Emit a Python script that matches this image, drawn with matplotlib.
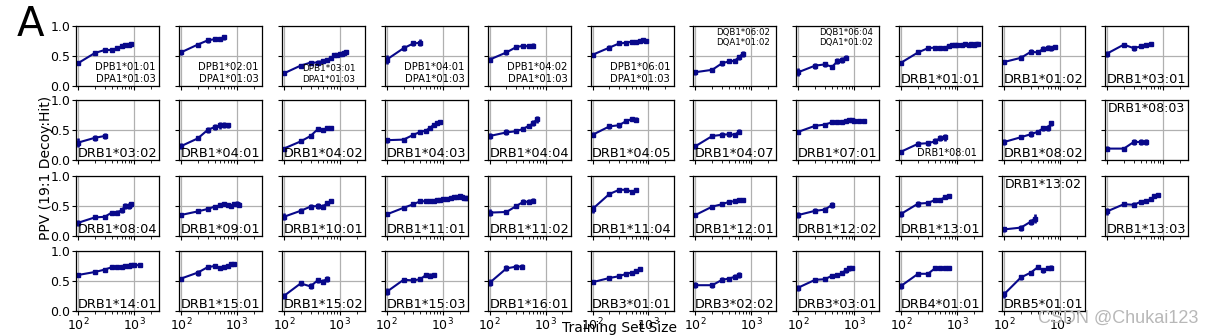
import matplotlib
matplotlib.use("Agg")
import matplotlib.pyplot as plt
import numpy as np

# ---------------- data ----------------
panel_names = [
    "DPB1*01:01\nDPA1*01:03", "DPB1*02:01\nDPA1*01:03", "DPB1*03:01\nDPA1*01:03",
    "DPB1*04:01\nDPA1*01:03", "DPB1*04:02\nDPA1*01:03", "DPB1*06:01\nDPA1*01:03",
    "DQB1*06:02\nDQA1*01:02", "DQB1*06:04\nDQA1*01:02", "DRB1*01:01", "DRB1*01:02",
    "DRB1*03:01",
    "DRB1*03:02", "DRB1*04:01", "DRB1*04:02", "DRB1*04:03", "DRB1*04:04", "DRB1*04:05",
    "DRB1*04:07", "DRB1*07:01", "DRB1*08:01", "DRB1*08:02", "DRB1*08:03",
    "DRB1*08:04", "DRB1*09:01", "DRB1*10:01", "DRB1*11:01", "DRB1*11:02", "DRB1*11:04",
    "DRB1*12:01", "DRB1*12:02", "DRB1*13:01", "DRB1*13:02", "DRB1*13:03",
    "DRB1*14:01", "DRB1*15:01", "DRB1*15:02", "DRB1*15:03", "DRB1*16:01", "DRB3*01:01",
    "DRB3*02:02", "DRB3*03:01", "DRB4*01:01", "DRB5*01:01",
]

train_sizes = [
    [100, 200, 300, 400, 500, 600, 700, 800, 900],
    [100, 200, 300, 400, 500, 600],
    [100, 200, 300, 400, 500, 600, 700, 800, 900, 1000, 1100, 1200, 1300],
    [100, 200, 300, 400],
    [100, 200, 300, 400, 500, 600],
    [100, 200, 300, 400, 500, 600, 700, 800, 900],
    [100, 200, 300, 400, 500, 600, 700],
    [100, 200, 300, 400, 500, 600, 700],
    [100, 200, 300, 400, 500, 600, 700, 800, 900, 1000, 1200, 1400, 1600, 1800, 2000, 2200, 2400],
    [100, 200, 300, 400, 500, 600, 700, 800],
    [100, 200, 300, 400, 500, 600],
    [100, 200, 300],
    [100, 200, 300, 400, 500, 600, 700],
    [100, 200, 300, 400, 500, 600, 700],
    [100, 200, 300, 400, 500, 600, 700, 800, 900],
    [100, 200, 300, 400, 500, 600, 700],
    [100, 200, 300, 400, 500, 600],
    [100, 200, 300, 400, 500, 600],
    [100, 200, 300, 400, 500, 600, 700, 800, 900, 1000, 1200, 1500],
    [100, 200, 300, 400, 500, 600],
    [100, 200, 300, 400, 500, 600, 700],
    [100, 200, 300, 400, 500],
    [100, 200, 300, 400, 500, 600, 700, 800, 900],
    [100, 200, 300, 400, 500, 600, 700, 800, 900, 1000, 1100],
    [100, 200, 300, 400, 500, 600, 700],
    [100, 200, 300, 400, 500, 600, 700, 800, 900, 1000, 1200, 1400, 1600, 1800, 2000, 2200, 2400, 2600, 2800],
    [100, 200, 300, 400, 500, 600],
    [100, 200, 300, 400, 500, 600],
    [100, 200, 300, 400, 500, 600, 700],
    [100, 200, 300, 400],
    [100, 200, 300, 400, 500, 600, 700],
    [100, 200, 300, 350],
    [100, 200, 300, 400, 500, 600, 700, 800],
    [100, 200, 300, 400, 500, 600, 700, 800, 900, 1000, 1300],
    [100, 200, 300, 400, 500, 600, 700, 800, 900],
    [100, 200, 300, 400, 500, 600],
    [100, 200, 300, 400, 500, 600, 700],
    [100, 200, 300, 380],
    [100, 200, 300, 400, 500, 600, 700],
    [100, 200, 300, 400, 500, 600],
    [100, 200, 300, 400, 500, 600, 700, 800, 900],
    [100, 200, 300, 400, 500, 600, 700],
    [100, 200, 300, 400, 500, 600, 700],
]

ppv = [
    [0.38, 0.55, 0.60, 0.60, 0.63, 0.66, 0.68, 0.69, 0.70],
    [0.56, 0.69, 0.76, 0.78, 0.79, 0.81],
    [0.21, 0.34, 0.39, 0.39, 0.42, 0.44, 0.47, 0.51, 0.52, 0.53, 0.54, 0.55, 0.56],
    [0.44, 0.63, 0.71, 0.72],
    [0.44, 0.56, 0.65, 0.67, 0.66, 0.67],
    [0.52, 0.64, 0.71, 0.72, 0.74, 0.74, 0.75, 0.77, 0.75],
    [0.23, 0.27, 0.38, 0.41, 0.42, 0.48, 0.54],
    [0.23, 0.34, 0.36, 0.32, 0.41, 0.44, 0.47],
    [0.39, 0.56, 0.63, 0.64, 0.64, 0.63, 0.67, 0.69, 0.69, 0.69, 0.69, 0.70, 0.69, 0.70, 0.69, 0.70, 0.70],
    [0.40, 0.47, 0.57, 0.56, 0.62, 0.64, 0.63, 0.65],
    [0.54, 0.69, 0.63, 0.66, 0.68, 0.70],
    [0.29, 0.37, 0.40],
    [0.23, 0.36, 0.50, 0.55, 0.58, 0.59, 0.58],
    [0.19, 0.31, 0.40, 0.51, 0.50, 0.53, 0.54],
    [0.33, 0.34, 0.42, 0.47, 0.49, 0.54, 0.59, 0.61, 0.63],
    [0.40, 0.46, 0.48, 0.52, 0.57, 0.61, 0.68],
    [0.42, 0.56, 0.58, 0.65, 0.68, 0.67],
    [0.23, 0.40, 0.42, 0.43, 0.42, 0.47],
    [0.47, 0.57, 0.59, 0.63, 0.63, 0.64, 0.65, 0.66, 0.66, 0.65, 0.65, 0.65],
    [0.14, 0.27, 0.28, 0.31, 0.37, 0.38],
    [0.30, 0.38, 0.43, 0.47, 0.53, 0.54, 0.61],
    [0.19, 0.19, 0.30, 0.30, 0.30],
    [0.22, 0.31, 0.32, 0.39, 0.39, 0.43, 0.50, 0.50, 0.53],
    [0.35, 0.41, 0.45, 0.49, 0.51, 0.53, 0.52, 0.50, 0.53, 0.54, 0.52],
    [0.32, 0.42, 0.49, 0.50, 0.49, 0.55, 0.58],
    [0.36, 0.47, 0.53, 0.58, 0.58, 0.59, 0.59, 0.60, 0.60, 0.61, 0.62, 0.64, 0.65, 0.65, 0.66, 0.65, 0.64, 0.64, 0.64],
    [0.39, 0.40, 0.50, 0.57, 0.57, 0.59],
    [0.45, 0.70, 0.77, 0.77, 0.74, 0.76],
    [0.35, 0.49, 0.53, 0.57, 0.58, 0.60, 0.60],
    [0.35, 0.42, 0.44, 0.52],
    [0.37, 0.54, 0.55, 0.60, 0.60, 0.65, 0.67],
    [0.11, 0.14, 0.24, 0.29],
    [0.41, 0.53, 0.52, 0.57, 0.59, 0.61, 0.66, 0.69],
    [0.60, 0.65, 0.69, 0.73, 0.74, 0.74, 0.75, 0.75, 0.76, 0.77, 0.76],
    [0.54, 0.64, 0.73, 0.75, 0.72, 0.74, 0.75, 0.78, 0.79],
    [0.25, 0.46, 0.41, 0.51, 0.49, 0.54],
    [0.32, 0.52, 0.51, 0.53, 0.60, 0.59, 0.60],
    [0.47, 0.71, 0.74, 0.74],
    [0.48, 0.55, 0.58, 0.62, 0.64, 0.66, 0.70],
    [0.43, 0.43, 0.52, 0.54, 0.57, 0.60],
    [0.39, 0.52, 0.53, 0.59, 0.60, 0.63, 0.68, 0.71, 0.71],
    [0.42, 0.62, 0.62, 0.71, 0.72, 0.71, 0.71],
    [0.28, 0.56, 0.64, 0.73, 0.68, 0.71, 0.72],
]

ppv_err = [
    [0.02, 0.03, 0.02, 0.02, 0.02, 0.03, 0.03, 0.03, 0.03],
    [0.04, 0.02, 0.04, 0.03, 0.03, 0.04],
    [0.02, 0.02, 0.03, 0.04, 0.03, 0.03, 0.02, 0.02, 0.02, 0.02, 0.02, 0.02, 0.02],
    [0.07, 0.05, 0.04, 0.06],
    [0.04, 0.04, 0.02, 0.02, 0.03, 0.04],
    [0.02, 0.04, 0.03, 0.02, 0.02, 0.02, 0.02, 0.03, 0.04],
    [0.04, 0.03, 0.04, 0.03, 0.03, 0.04, 0.05],
    [0.07, 0.05, 0.04, 0.03, 0.05, 0.05, 0.04],
    [0.02, 0.03, 0.02, 0.03, 0.02, 0.02, 0.02, 0.02, 0.02, 0.02, 0.02, 0.02, 0.02, 0.03, 0.02, 0.02, 0.02],
    [0.03, 0.04, 0.04, 0.03, 0.04, 0.04, 0.04, 0.04],
    [0.05, 0.02, 0.04, 0.03, 0.03, 0.04],
    [0.08, 0.05, 0.05],
    [0.05, 0.02, 0.05, 0.05, 0.06, 0.05, 0.04],
    [0.02, 0.03, 0.03, 0.03, 0.03, 0.03, 0.02],
    [0.04, 0.02, 0.02, 0.03, 0.02, 0.02, 0.03, 0.03, 0.03],
    [0.05, 0.05, 0.03, 0.02, 0.03, 0.05, 0.06],
    [0.04, 0.04, 0.04, 0.03, 0.03, 0.04],
    [0.04, 0.04, 0.04, 0.04, 0.03, 0.04],
    [0.03, 0.02, 0.02, 0.02, 0.02, 0.02, 0.02, 0.02, 0.03, 0.02, 0.02, 0.02],
    [0.03, 0.04, 0.04, 0.05, 0.05, 0.06],
    [0.05, 0.03, 0.05, 0.03, 0.04, 0.05, 0.04],
    [0.04, 0.02, 0.05, 0.05, 0.05],
    [0.05, 0.03, 0.03, 0.03, 0.04, 0.04, 0.05, 0.05, 0.04],
    [0.02, 0.03, 0.02, 0.03, 0.02, 0.02, 0.03, 0.02, 0.03, 0.04, 0.04],
    [0.06, 0.04, 0.04, 0.05, 0.04, 0.03, 0.03],
    [0.03, 0.02, 0.02, 0.02, 0.02, 0.02, 0.02, 0.02, 0.02, 0.03, 0.02, 0.02, 0.02, 0.02, 0.03, 0.02, 0.03, 0.02, 0.02],
    [0.06, 0.04, 0.04, 0.04, 0.04, 0.04],
    [0.06, 0.04, 0.03, 0.03, 0.03, 0.03],
    [0.03, 0.02, 0.03, 0.03, 0.02, 0.02, 0.02],
    [0.05, 0.04, 0.04, 0.05],
    [0.05, 0.05, 0.04, 0.03, 0.03, 0.02, 0.03],
    [0.04, 0.05, 0.05, 0.07],
    [0.06, 0.02, 0.04, 0.03, 0.03, 0.03, 0.03, 0.02],
    [0.04, 0.04, 0.03, 0.03, 0.02, 0.02, 0.02, 0.02, 0.02, 0.02, 0.03],
    [0.02, 0.05, 0.03, 0.02, 0.03, 0.03, 0.02, 0.02, 0.03],
    [0.05, 0.04, 0.05, 0.04, 0.04, 0.05],
    [0.06, 0.03, 0.03, 0.03, 0.03, 0.04, 0.03],
    [0.06, 0.05, 0.04, 0.04],
    [0.03, 0.02, 0.03, 0.03, 0.03, 0.02, 0.04],
    [0.05, 0.04, 0.04, 0.03, 0.04, 0.05],
    [0.05, 0.03, 0.03, 0.03, 0.03, 0.03, 0.04, 0.04, 0.03],
    [0.05, 0.03, 0.03, 0.03, 0.02, 0.03, 0.03],
    [0.06, 0.04, 0.03, 0.03, 0.04, 0.03, 0.04],
]

# label styles: 'dp' two-line bottom right, 'dq' two-line top right,
# 'top' top center, 'small' small bottom, default large bottom-left
label_style = {0: "dp", 1: "dp", 2: "dp3", 3: "dp", 4: "dp", 5: "dp",
               6: "dq", 7: "dq", 19: "small", 21: "top", 31: "top"}

y_ticks = [0.0, 0.5, 1.0]

# ---------------- layout ----------------
W, H = 1214, 335
fig = plt.figure(figsize=(W / 100, H / 100), dpi=100)
ncols = 11
col_left0, col_step, ax_w = 76, 102.9, 83
row_tops = [26, 100, 176, 251]
ax_h = 60
color = "#08088a"

for i, name in enumerate(panel_names):
    r, c = divmod(i, ncols)
    left = (col_left0 + c * col_step) / W
    bottom = 1 - (row_tops[r] + ax_h) / H
    ax = fig.add_axes([left, bottom, ax_w / W, ax_h / H])
    ax.set_xscale("log")
    ax.errorbar(train_sizes[i], ppv[i], yerr=ppv_err[i], color=color,
                marker="s", markersize=2.2, lw=1.5, elinewidth=1.9, capsize=0)
    ax.set_xlim(92, 2800)
    ax.set_ylim(0, 1.0)
    ax.set_yticks(y_ticks)
    ax.grid(True, which="major", color="#b0b0b0", lw=0.9)
    ax.set_axisbelow(True)
    ax.tick_params(axis="both", which="major", labelsize=9, length=3, width=0.8, pad=1)
    ax.tick_params(axis="x", which="minor", length=1.8, width=0.6)
    for s in ax.spines.values():
        s.set_linewidth(0.9)
    if c != 0:
        ax.set_yticklabels([])
    else:
        ax.set_yticklabels(["0.0", "0.5", "1.0"])
    if r != 3:
        ax.tick_params(axis="x", which="both", labelbottom=False)
    st = label_style.get(i, "big")
    if st == "dp":
        ax.text(0.96, 0.03, name, transform=ax.transAxes, ha="right", va="bottom",
                fontsize=7.2, linespacing=1.25)
    elif st == "dp3":
        ax.text(0.57, 0.03, name, transform=ax.transAxes, ha="center", va="bottom",
                fontsize=6.4, linespacing=1.25)
    elif st == "dq":
        ax.text(0.92, 0.97, name, transform=ax.transAxes, ha="right", va="top",
                fontsize=6.2, linespacing=1.2)
    elif st == "top":
        ax.text(0.5, 0.96, name, transform=ax.transAxes, ha="center", va="top",
                fontsize=9)
    elif st == "small":
        ax.text(0.57, 0.03, name, transform=ax.transAxes, ha="center", va="bottom",
                fontsize=7)
    else:
        ax.text(0.02, 0.0, name, transform=ax.transAxes, ha="left", va="bottom",
                fontsize=9.3)

fig.text(30 / W, 1 - 25 / H, "A", fontsize=29, ha="center", va="center")
fig.text(46 / W, 1 - 168 / H, "PPV (19:1 Decoy:Hit)", rotation=90, fontsize=10,
         ha="center", va="center")
fig.text(620 / W, 1 - 328 / H, "Training Set Size", fontsize=10, ha="center", va="center")
fig.text(1198 / W, 1 - 318 / H, "CSDN @Chukai123", fontsize=13, color="#b8b8b8",
         ha="right", va="center", family="Liberation Sans")

fig.savefig("out.png", dpi=100)
